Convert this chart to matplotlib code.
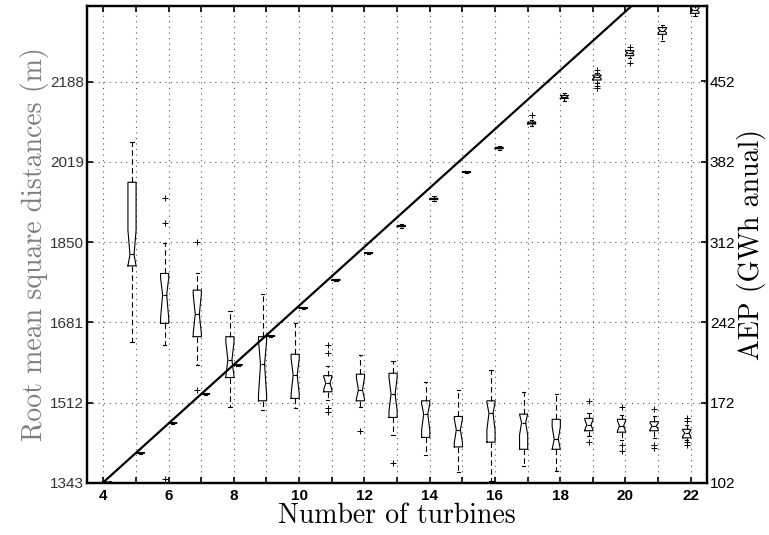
import matplotlib
matplotlib.use("Agg")
import matplotlib.pyplot as plt
import numpy as np

# RMS distance boxes (left axis), n = 5..22
rms_turbines = list(range(5, 23))
rms_whishi = [2061, 1848, 1784, 1706, 1741, 1679, 1589, 1612, 1600, 1555, 1539, 1581, 1534, 1530, 1490, 1486, 1484, 1465]
rms_q3 = [1976, 1784, 1749, 1651, 1651, 1614, 1569, 1572, 1574, 1516, 1483, 1516, 1488, 1477, 1479, 1477, 1472, 1456]
rms_med = [1824, 1739, 1698, 1602, 1593, 1570, 1553, 1539, 1530, 1488, 1455, 1490, 1470, 1435, 1465, 1463, 1463, 1448]
rms_q1 = [1800, 1679, 1651, 1565, 1516, 1521, 1535, 1516, 1481, 1439, 1419, 1429, 1414, 1414, 1453, 1450, 1453, 1438]
rms_whislo = [1640, 1633, 1591, 1504, 1497, 1500, 1518, 1502, 1444, 1402, 1367, 1347, 1379, 1368, 1442, 1434, 1437, 1434]
rms_cihi = [1875, 1775, 1740, 1640, 1643, 1605, 1566, 1565, 1565, 1510, 1478, 1512, 1488, 1461, 1476, 1474, 1469, 1454]
rms_cilo = [1800, 1690, 1658, 1568, 1527, 1530, 1540, 1520, 1495, 1455, 1428, 1455, 1444, 1414, 1455, 1452, 1456, 1441]
rms_fliers = [[], [1943, 1890, 1351], [1851, 1539], [], [], [], [1633, 1616, 1500, 1493],
              [1452], [1386], [], [], [], [], [], [1516, 1429], [1504, 1424, 1411],
              [1498, 1424, 1416], [1480, 1474, 1430, 1422]]

# AEP boxes (right axis), n = 4..22
aep_turbines = list(range(4, 23))
aep_whishi = [103.0, 128.8, 155.0, 180.3, 205.6, 231.0, 255.3, 280.2, 303.6, 327.5, 351.8, 374.3, 395.4, 418.0, 442.0, 459.4, 479.5, 501.3, 518.0]
aep_q3 = [102.8, 128.5, 154.6, 179.9, 205.2, 230.4, 254.8, 279.4, 302.9, 326.5, 350.1, 373.5, 394.6, 416.6, 439.8, 457.6, 478.9, 499.0, 517.2]
aep_med = [102.6, 128.2, 154.3, 179.6, 204.9, 230.1, 254.5, 279.0, 302.5, 326.0, 349.6, 373.1, 394.0, 415.8, 438.5, 455.9, 476.8, 496.3, 514.3]
aep_q1 = [102.4, 127.9, 154.0, 179.3, 204.6, 229.8, 254.2, 278.6, 302.1, 325.5, 349.1, 372.7, 393.4, 415.0, 437.2, 453.3, 474.5, 493.1, 511.4]
aep_whislo = [102.2, 127.6, 153.6, 178.9, 204.2, 229.2, 253.7, 277.8, 301.4, 324.5, 347.4, 371.9, 392.6, 413.6, 435.0, 450.7, 472.5, 487.6, 509.0]
aep_cihi = [102.8, 128.5, 154.6, 179.9, 205.2, 230.4, 254.8, 279.4, 302.9, 326.5, 350.1, 373.5, 394.6, 416.6, 439.8, 457.0, 478.0, 498.0, 516.0]
aep_cilo = [102.4, 127.9, 154.0, 179.3, 204.6, 229.8, 254.2, 278.6, 302.1, 325.5, 349.1, 372.7, 393.4, 415.0, 437.2, 454.5, 475.6, 494.5, 512.5]
aep_fliers = [[], [], [], [], [], [], [], [], [], [], [], [], [], [422.8], [],
              [462.0, 448.0, 446.3], [482.3, 468.4], [], [518.7]]

# ideal AEP (no wake losses) per turbine
ideal_aep_per_turbine = 25.65
line_turbines = np.array([4.0, 22.5])

left_ticks = [1343, 1512, 1681, 1850, 2019, 2188]
right_ticks = [102, 172, 242, 312, 382, 452]
x_ticks = list(range(4, 23))


def make_stats(med, q1, q3, lo, hi, cilo, cihi, fliers):
    stats = []
    for i in range(len(med)):
        stats.append(dict(med=med[i], q1=q1[i], q3=q3[i], whislo=lo[i], whishi=hi[i],
                          cilo=cilo[i], cihi=cihi[i], fliers=fliers[i]))
    return stats


fig = plt.figure(figsize=(7.69, 5.35), dpi=100)
ax1 = fig.add_axes([0.1131, 0.0972, 0.8063, 0.8916])
ax2 = ax1.twinx()

box_kw = dict(widths=0.25, shownotches=True, capwidths=0.1,
              boxprops=dict(color="black", lw=0.8),
              medianprops=dict(color="black", lw=0.8),
              whiskerprops=dict(color="black", lw=0.8, linestyle=(0, (5, 3))),
              capprops=dict(color="black", lw=0.8),
              flierprops=dict(marker="+", markersize=4, markeredgecolor="black", markeredgewidth=0.7))

rms_stats = make_stats(rms_med, rms_q1, rms_q3, rms_whislo, rms_whishi, rms_cilo, rms_cihi, rms_fliers)
ax1.bxp(rms_stats, positions=[n - 0.12 for n in rms_turbines], manage_ticks=False, **box_kw)

aep_stats = make_stats(aep_med, aep_q1, aep_q3, aep_whislo, aep_whishi, aep_cilo, aep_cihi, aep_fliers)
ax2.bxp(aep_stats, positions=[n + 0.13 for n in aep_turbines], manage_ticks=False, **box_kw)

ax2.plot(line_turbines, ideal_aep_per_turbine * line_turbines, color="black", lw=1.6)

ax1.set_xlim(3.5, 22.5)
ax1.set_ylim(1343, 2347)
ax2.set_ylim(102, 517.8)

ax1.set_xticks(x_ticks)
ax1.set_xticklabels([str(n) if n % 2 == 0 else "" for n in x_ticks],
                    fontfamily="Liberation Sans", fontweight="bold", fontsize=11)
ax1.set_yticks(left_ticks)
ax1.set_yticklabels([str(v) for v in left_ticks], fontfamily="Liberation Sans", fontsize=11, color="#333333")
ax2.set_yticks(right_ticks)
ax2.set_yticklabels([str(v) for v in right_ticks], fontfamily="Liberation Sans", fontsize=11)

ax1.tick_params(axis="x", direction="in", top=True, length=4, width=1.2, pad=4)
ax1.tick_params(axis="y", direction="in", length=4, width=1.2, pad=2)
ax2.tick_params(axis="y", direction="in", length=4, width=1.2, pad=2)

ax1.grid(True, linestyle=(0, (1, 4)), color="#555555", lw=0.8)
ax1.set_axisbelow(True)

for ax in (ax1, ax2):
    for s in ax.spines.values():
        s.set_linewidth(1.6)
        s.set_color("black")

ax1.set_xlabel("Number of turbines", fontfamily="cmr10", fontsize=20, labelpad=0)
ax1.set_ylabel("Root mean square distances (m)", fontfamily="cmr10", fontsize=20, color="#7f7f7f", labelpad=1)
ax2.set_ylabel("AEP (GWh anual)", fontfamily="cmr10", fontsize=20, labelpad=1)

fig.savefig("out.png", dpi=100)
